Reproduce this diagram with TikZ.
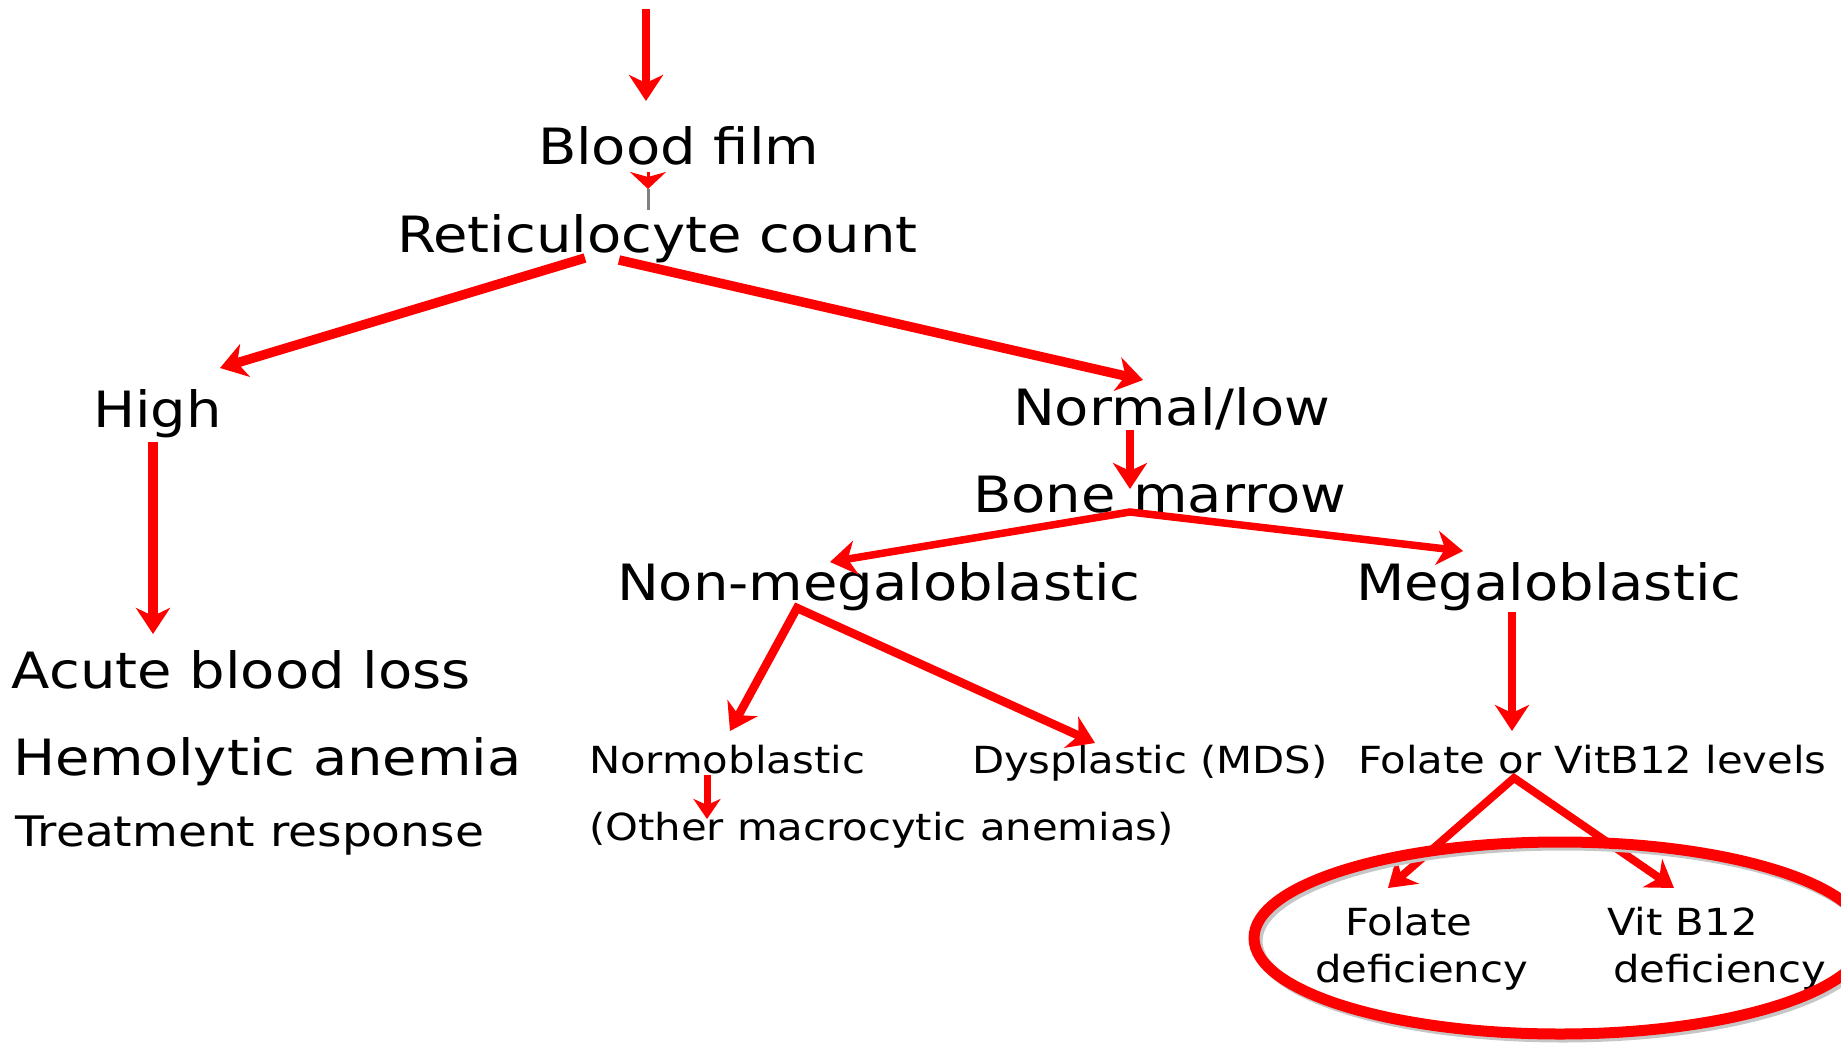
\documentclass[tikz,border=0pt]{standalone}
\usepackage{fontspec}
\setmainfont{DejaVu Sans}[FakeStretch=1.12]
\usetikzlibrary{arrows.meta}
\definecolor{pptred}{RGB}{255,0,0}
\tikzset{
  lbl/.style={anchor=base west, inner sep=0pt, outer sep=0pt, text=black},
  bigtxt/.style={lbl, font=\fontsize{50}{60}\selectfont},
  midtxt/.style={lbl, font=\fontsize{42}{50}\selectfont},
  smalltxt/.style={lbl, font=\fontsize{37.3}{47}\selectfont},
  arr/.style={draw=pptred, line width=#1, -{Stealth[length=26pt,width=34pt,inset=8pt]}},
  arr/.default=8.5pt,
  fork/.style={draw=pptred, line width=#1, line join=miter, {Stealth[length=26pt,width=34pt,inset=8pt]}-{Stealth[length=26pt,width=34pt,inset=8pt]}},
  fork/.default=8pt,
}
\begin{document}
\begin{tikzpicture}[x=1pt,y=-1pt]
\path[use as bounding box] (0,0) rectangle (1841,1043);
\clip (0,0) rectangle (1841,1043);

% text nodes
\node[bigtxt] (blood) at (538,165) {Blood film};
\node[bigtxt] (retic) at (397,252) {Reticulocyte count};
\node[bigtxt] (high) at (93,427) {High};
\node[bigtxt] (normlow) at (1013,425) {Normal/low};
\node[bigtxt] (bone) at (973,512) {Bone marrow};
\node[bigtxt] (nonmega) at (617,600) {Non-megaloblastic};
\node[bigtxt] (mega) at (1356,600) {Megaloblastic};
\node[bigtxt] (acute) at (12,688) {Acute blood loss};
\node[bigtxt] (hemo) at (13,775) {Hemolytic anemia};
\node[midtxt] (treat) at (16,846) {Treatment response};
\node[smalltxt] (normo) at (589,773) {Normoblastic};
\node[smalltxt] (dysp) at (972,773) {Dysplastic (MDS)};
\node[smalltxt] (levels) at (1358,773) {Folate or VitB12 levels};
\node[smalltxt] (other) at (589,840) {(Other macrocytic anemias)};
\node[smalltxt] (folatedef) at (1315,935) {\vtop{\baselineskip=47pt\hbox{\hspace*{30pt}Folate}\hbox{deficiency}}};
\node[smalltxt] (b12def) at (1607,935) {\vtop{\baselineskip=47pt\hbox{Vit B12}\hbox{\hspace*{6pt}deficiency}}};

% connector end points
\coordinate (topstart) at (646,9);
\coordinate (topend) at (646,101);
\coordinate (bfA) at (648,172);
\coordinate (bfB) at (648,189);
\coordinate (bfC) at (648,210);
\coordinate (rL) at (585,258);
\coordinate (rR) at (619,260);
\coordinate (tipHigh) at (220,368);
\coordinate (tipNorm) at (1143,380);
\coordinate (hA) at (153,442);
\coordinate (hB) at (153,634);
\coordinate (nA) at (1130,430);
\coordinate (nB) at (1130,489);
\coordinate (bmFork) at (1130,512);
\coordinate (tipNon) at (830,562);
\coordinate (tipMega) at (1463,551);
\coordinate (nmFork) at (797,608);
\coordinate (tipNormo) at (730,731);
\coordinate (tipDysp) at (1095,743);
\coordinate (mA) at (1512,612);
\coordinate (mB) at (1512,731);
\coordinate (oA) at (707,775);
\coordinate (oB) at (707,819);
\coordinate (lvFork) at (1514,778);
\coordinate (tipFol) at (1388,888);
\coordinate (tipB12) at (1674,888);

% connectors
\draw[arr] (topstart) -- (topend);
\draw[draw=gray, line width=3pt] (bfB) -- (bfC);
\draw[draw=pptred, line width=3pt, -{Stealth[length=17pt,width=36pt,inset=5pt]}] (bfA) -- (bfB);
\draw[arr=9.5pt] (rL) -- (tipHigh);
\draw[arr=9.5pt] (rR) -- (tipNorm);
\draw[arr=9.5pt] (hA) -- (hB);
\draw[arr=7.5pt] (nA) -- (nB);
\draw[fork=7.5pt] (tipNon) -- (bmFork) -- (tipMega);
\draw[fork=8.5pt] (tipNormo) -- (nmFork) -- (tipDysp);
\draw[arr=8.5pt] (mA) -- (mB);
\draw[draw=pptred, line width=7pt, -{Stealth[length=20pt,width=27pt,inset=6pt]}] (oA) -- (oB);
\draw[fork=8pt] (tipFol) -- (lvFork) -- (tipB12);

% highlight ellipse
\draw[gray!45, line width=11pt] (1563,941) ellipse [x radius=306pt, y radius=96pt];
\draw[pptred, line width=11pt] (1560,938) ellipse [x radius=306pt, y radius=96pt];
\end{tikzpicture}
\end{document}
